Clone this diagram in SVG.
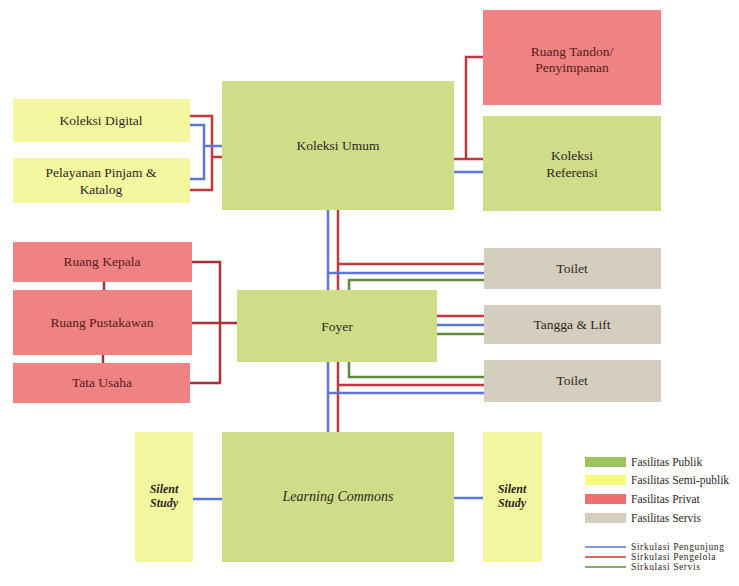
<svg xmlns="http://www.w3.org/2000/svg" width="739" height="586" viewBox="0 0 739 586">
<style>
.pub{fill:#cfdc88}.semi{fill:#f5f7a0}.priv{fill:#ef8383}.serv{fill:#d3cebd}
text{font-family:"Liberation Serif","DejaVu Serif",serif;font-size:13.5px;fill:#2f2624;text-anchor:middle}
.pt{fill:#561a1a}
.it{font-style:italic}
.ss{font-size:12px;font-weight:bold}
.lg{font-size:11.5px;text-anchor:start}
.lc{font-size:9.5px;letter-spacing:0.6px;text-anchor:start}
.b,.r,.g{fill:none;stroke-width:2.5}
.b{stroke:#5b78d6}.r{stroke:#c0393c}.g{stroke:#5e8a3c}.rd{fill:none;stroke-width:2.5;stroke:#a8323a}
</style>
<rect width="739" height="586" fill="#fff"/>
<g id="connectors">
<polyline class="r" points="190,116 212,116 212,190 190,190"/>
<line class="r" x1="212" y1="157" x2="222" y2="157"/>
<polyline class="b" points="190,125 204,125 204,179 190,179"/>
<line class="b" x1="204" y1="146" x2="222" y2="146"/>
<line class="r" x1="454" y1="159" x2="483" y2="159"/>
<polyline class="r" points="466,159 466,57 483,57"/>
<line class="b" x1="454" y1="172" x2="483" y2="172"/>
<line class="b" x1="328" y1="210" x2="328" y2="290"/>
<line class="r" x1="338" y1="210" x2="338" y2="290"/>
<line class="r" x1="338" y1="264" x2="484" y2="264"/>
<line class="b" x1="328" y1="273" x2="484" y2="273"/>
<polyline class="g" points="349,290 349,280 484,280"/>
<line class="r" x1="437" y1="316" x2="484" y2="316"/>
<line class="b" x1="437" y1="325" x2="484" y2="325"/>
<line class="g" x1="437" y1="334" x2="484" y2="334"/>
<line class="b" x1="328" y1="362" x2="328" y2="432"/>
<line class="r" x1="338" y1="362" x2="338" y2="432"/>
<polyline class="g" points="349,362 349,377 484,377"/>
<line class="r" x1="338" y1="385" x2="484" y2="385"/>
<line class="b" x1="328" y1="393" x2="484" y2="393"/>
<polyline class="rd" points="192,262 220,262 220,383 190,383"/>
<line class="rd" x1="192" y1="323" x2="237" y2="323"/>
<line class="rd" x1="104" y1="282" x2="104" y2="290"/>
<line class="rd" x1="103" y1="355" x2="103" y2="363"/>
<line class="b" x1="193" y1="499" x2="222" y2="499"/>
<line class="b" x1="454" y1="498" x2="483" y2="498"/>
</g>
<g id="koleksi-digital"><rect class="semi" x="13" y="99" width="177" height="43"/><text x="101" y="125">Koleksi Digital</text></g>
<g id="pelayanan"><rect class="semi" x="13" y="158" width="177" height="45"/><text x="101" y="177">Pelayanan Pinjam &amp;</text><text x="101" y="194">Katalog</text></g>
<g id="koleksi-umum"><rect class="pub" x="222" y="81" width="232" height="129"/><text x="338" y="150">Koleksi Umum</text></g>
<g id="ruang-tandon"><rect class="priv" x="483" y="10" width="178" height="95"/><text class="pt" x="572" y="56">Ruang Tandon/</text><text class="pt" x="572" y="72">Penyimpanan</text></g>
<g id="koleksi-referensi"><rect class="pub" x="483" y="116" width="178" height="95"/><text x="572" y="160">Koleksi</text><text x="572" y="177">Referensi</text></g>
<g id="ruang-kepala"><rect class="priv" x="13" y="242" width="179" height="40"/><text class="pt" x="102" y="266">Ruang Kepala</text></g>
<g id="ruang-pustakawan"><rect class="priv" x="13" y="290" width="179" height="65"/><text class="pt" x="102" y="327">Ruang Pustakawan</text></g>
<g id="tata-usaha"><rect class="priv" x="13" y="363" width="177" height="40"/><text class="pt" x="102" y="387">Tata Usaha</text></g>
<g id="foyer"><rect class="pub" x="237" y="290" width="200" height="72"/><text x="337" y="331">Foyer</text></g>
<g id="toilet-1"><rect class="serv" x="484" y="248" width="177" height="41"/><text x="572" y="273">Toilet</text></g>
<g id="tangga-lift"><rect class="serv" x="484" y="305" width="177" height="39"/><text x="572" y="329">Tangga &amp; Lift</text></g>
<g id="toilet-2"><rect class="serv" x="484" y="360" width="177" height="42"/><text x="572" y="385">Toilet</text></g>
<g id="silent-study-left"><rect class="semi" x="135" y="432" width="58" height="130"/><text class="it ss" x="164" y="493">Silent</text><text class="it ss" x="164" y="507">Study</text></g>
<g id="learning-commons"><rect class="pub" x="222" y="432" width="232" height="130"/><text class="it" x="338" y="501" style="font-size:14px">Learning Commons</text></g>
<g id="silent-study-right"><rect class="semi" x="483" y="432" width="59" height="130"/><text class="it ss" x="512" y="493">Silent</text><text class="it ss" x="512" y="507">Study</text></g>
<g id="legend">
<rect x="585" y="457" width="41" height="10" fill="#9bc25e"/><text class="lg" x="631" y="466">Fasilitas Publik</text>
<rect x="585" y="475" width="41" height="10" fill="#f8f87e"/><text class="lg" x="631" y="484">Fasilitas Semi-publik</text>
<rect x="585" y="494" width="41" height="10" fill="#ef6f6f"/><text class="lg" x="631" y="503">Fasilitas Privat</text>
<rect x="585" y="513" width="41" height="10" fill="#d3cebd"/><text class="lg" x="631" y="522">Fasilitas Servis</text>
<line x1="585" y1="547" x2="626" y2="547" stroke="#5b78d6" stroke-width="1.5"/><text class="lc" x="631" y="550">Sirkulasi Pengunjung</text>
<line x1="585" y1="557" x2="626" y2="557" stroke="#c0393c" stroke-width="1.5"/><text class="lc" x="631" y="560">Sirkulasi Pengelola</text>
<line x1="585" y1="567" x2="626" y2="567" stroke="#5e8a3c" stroke-width="1.5"/><text class="lc" x="631" y="570">Sirkulasi Servis</text>
</g>
</svg>
